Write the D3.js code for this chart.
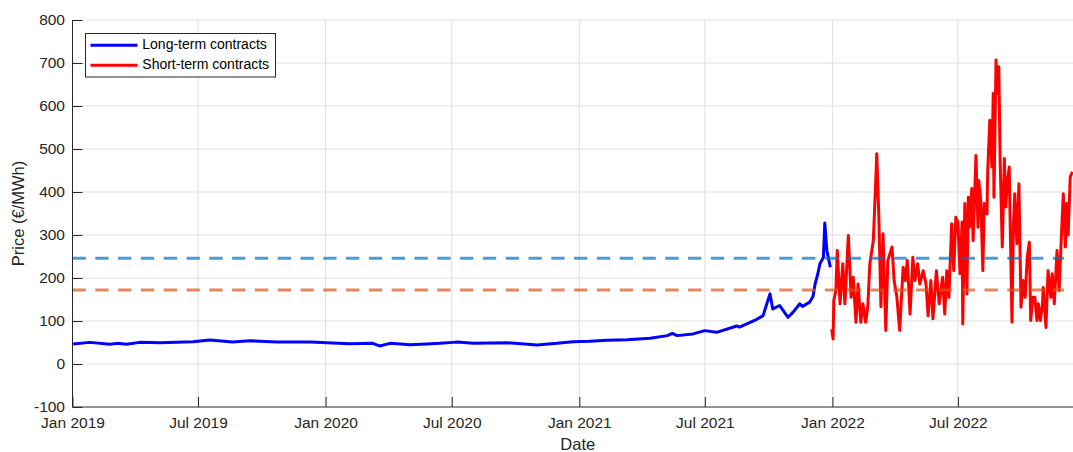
<!DOCTYPE html>
<html>
<head>
<meta charset="utf-8">
<script src="https://cdn.jsdelivr.net/npm/d3@7"></script>
<style>
  body { margin: 0; background: #fff; }
  svg { display: block; font-family: "Liberation Sans", Arial, sans-serif; }
</style>
</head>
<body>
<div id="chart"></div>
<script>
// long-term contracts (weekly-ish reading of the curve)
const longDates = ['2019-01-02','2019-01-26','2019-02-24','2019-03-06','2019-03-20','2019-04-08','2019-05-07','2019-06-24',
  '2019-07-18','2019-08-20','2019-09-14','2019-10-23','2019-12-10','2020-01-03','2020-02-05','2020-03-09','2020-03-19',
  '2020-04-03','2020-05-02','2020-05-26','2020-06-14','2020-07-03','2020-07-09','2020-08-01','2020-09-19','2020-11-01',
  '2020-11-30','2020-12-23','2021-01-16','2021-02-10','2021-03-11','2021-04-13','2021-05-08','2021-05-15','2021-05-22',
  '2021-06-14','2021-07-01','2021-07-18','2021-08-16','2021-08-20','2021-09-14','2021-09-23','2021-10-03','2021-10-07',
  '2021-10-17','2021-10-29','2021-11-05','2021-11-15','2021-11-19','2021-11-29','2021-12-04','2021-12-07','2021-12-11',
  '2021-12-14','2021-12-19','2021-12-21','2021-12-24','2021-12-29']
const longPrices = [46.6, 50.3, 45.7, 48, 45.7, 50.3, 49.5, 51.8,
  55.7, 51, 54, 51, 51, 49.5, 47, 48, 42,
  48, 45, 46.6, 48, 50.3, 51, 48, 49.6, 44.3,
  48, 52, 52.7, 55, 56.4, 59.7, 66, 71, 66,
  70, 77.6, 73.7, 88.5, 86, 104, 112.5, 163, 128,
  136, 108.6, 120, 140, 134, 143.5, 157, 186, 210,
  233, 248, 328, 264, 225]

// short-term contracts (2022)
const shortDates = ['2021-12-31','2022-01-02','2022-01-03','2022-01-06','2022-01-08','2022-01-12','2022-01-16','2022-01-19',
  '2022-01-24','2022-01-28','2022-01-31','2022-02-04','2022-02-07','2022-02-11','2022-02-14','2022-02-18','2022-02-21',
  '2022-02-24','2022-03-01','2022-03-03','2022-03-06','2022-03-09','2022-03-12','2022-03-15','2022-03-19','2022-03-22',
  '2022-03-28','2022-03-31','2022-04-04','2022-04-08','2022-04-13','2022-04-16','2022-04-19','2022-04-23','2022-04-27',
  '2022-04-30','2022-05-04','2022-05-07','2022-05-12','2022-05-16','2022-05-19','2022-05-23','2022-05-26','2022-05-31',
  '2022-06-04','2022-06-09','2022-06-12','2022-06-15','2022-06-18','2022-06-22','2022-06-25','2022-06-28','2022-07-01',
  '2022-07-04','2022-07-07','2022-07-08','2022-07-11','2022-07-14','2022-07-16','2022-07-18','2022-07-21','2022-07-23',
  '2022-07-27','2022-07-30','2022-07-31','2022-08-03','2022-08-06','2022-08-08','2022-08-12','2022-08-13','2022-08-16',
  '2022-08-19','2022-08-21','2022-08-22','2022-08-25','2022-08-26','2022-08-29','2022-08-31','2022-09-03','2022-09-06',
  '2022-09-08','2022-09-10','2022-09-13','2022-09-14','2022-09-17','2022-09-19','2022-09-21','2022-09-24','2022-09-27',
  '2022-09-30','2022-10-03','2022-10-06','2022-10-09','2022-10-12','2022-10-14','2022-10-17','2022-10-20','2022-10-23',
  '2022-10-25','2022-10-28','2022-10-31','2022-11-01','2022-11-05','2022-11-08','2022-11-12','2022-11-14','2022-11-17',
  '2022-11-21','2022-11-24','2022-11-27','2022-11-30','2022-12-03','2022-12-05','2022-12-07','2022-12-10','2022-12-13']
const shortPrices = [81, 58, 147, 171, 264, 140, 233, 140,
  299, 155, 202, 97, 186, 97, 140, 97, 133,
  233, 287, 365, 489, 341, 133, 303, 78, 241,
  272, 194, 155, 78, 225, 194, 241, 116, 248,
  194, 233, 186, 217, 186, 112, 194, 105, 217,
  140, 202, 116, 217, 155, 326, 217, 341, 330,
  210, 330, 93, 373, 163, 388, 318, 408, 287,
  485, 318, 427, 380, 217, 373, 349, 450, 567,
  458, 629, 388, 707, 629, 691, 466, 272, 478,
  365, 419, 458, 365, 97, 318, 396, 280, 419,
  132, 194, 155, 248, 283, 101, 155, 155, 101,
  140, 101, 140, 178, 85, 217, 155, 210, 140,
  264, 171, 287, 396, 272, 373, 300, 435, 447]

// reference levels
const levelValues = [246, 172]
const levelColors = ['#0072BD', '#D95319']

const yTicks = [-100, 0, 100, 200, 300, 400, 500, 600, 700, 800]
const xTickDates = ['2019-01-01','2019-07-01','2020-01-01','2020-07-01','2021-01-01','2021-07-01','2022-01-01','2022-07-01']

const width = 1073
const height = 452
const margin = { top: 20, right: 0, bottom: 45, left: 72.5 }
const textColor = '#262626'
const tickFont = '15.5px'

const parse = d3.utcParse('%Y-%m-%d')
const longData = longDates.map((d, i) => ({ date: parse(d), value: longPrices[i] }))
const shortData = shortDates.map((d, i) => ({ date: parse(d), value: shortPrices[i] }))

const x = d3.scaleUtc()
  .domain([parse('2019-01-01'), parse('2022-12-14')])
  .range([margin.left, width - margin.right])
const y = d3.scaleLinear()
  .domain([-100, 800])
  .range([height - margin.bottom, margin.top])

const svg = d3.select('#chart').append('svg')
  .attr('width', width)
  .attr('height', height)

// grid
const grid = svg.append('g').attr('stroke', '#dfdfdf').attr('stroke-width', 1)
grid.selectAll('line.h')
  .data(yTicks.slice(1))
  .enter().append('line')
    .attr('x1', margin.left).attr('x2', width)
    .attr('y1', d => y(d)).attr('y2', d => y(d))
grid.selectAll('line.v')
  .data(xTickDates.slice(1))
  .enter().append('line')
    .attr('x1', d => x(parse(d))).attr('x2', d => x(parse(d)))
    .attr('y1', margin.top).attr('y2', height - margin.bottom)

const line = d3.line()
  .x(d => x(d.date))
  .y(d => y(d.value))

svg.append('path')
  .datum(longData)
  .attr('fill', 'none')
  .attr('stroke', '#0000ff')
  .attr('stroke-width', 3)
  .attr('stroke-linejoin', 'round')
  .attr('d', line)

svg.append('path')
  .datum(shortData)
  .attr('fill', 'none')
  .attr('stroke', '#ff0000')
  .attr('stroke-width', 3)
  .attr('stroke-linejoin', 'round')
  .attr('d', line)

// dashed levels on top
svg.append('g')
  .selectAll('line')
  .data(levelValues)
  .enter().append('line')
    .attr('x1', margin.left)
    .attr('x2', x(parse('2022-12-01')))
    .attr('y1', d => y(d)).attr('y2', d => y(d))
    .attr('stroke', (d, i) => levelColors[i])
    .attr('stroke-opacity', 0.7)
    .attr('stroke-width', 3)
    .attr('stroke-dasharray', '13.3 9.5')

// y axis
const yAxis = svg.append('g')
  .attr('transform', `translate(${margin.left},0)`)
  .call(d3.axisLeft(y).tickValues(yTicks).tickFormat(d => String(d)).tickSize(-10).tickPadding(7.5))
yAxis.select('.domain').attr('stroke', textColor).attr('d', `M0,${margin.top}V${height - margin.bottom}`)
yAxis.selectAll('.tick line').attr('stroke', textColor)
yAxis.selectAll('.tick text')
  .attr('fill', textColor)
  .style('font-size', tickFont)
  .style('font-family', '"Liberation Sans", Arial, sans-serif')

// x axis
const xAxis = svg.append('g')
  .attr('transform', `translate(0,${height - margin.bottom})`)
  .call(d3.axisBottom(x)
    .tickValues(xTickDates.map(parse))
    .tickFormat(d3.utcFormat('%b %Y'))
    .tickSize(-10)
    .tickPadding(10))
xAxis.select('.domain').attr('stroke', textColor).attr('d', `M${margin.left},0H${width}`)
xAxis.selectAll('.tick line').attr('stroke', textColor)
xAxis.selectAll('.tick text')
  .attr('fill', textColor)
  .style('font-size', tickFont)
  .style('font-family', '"Liberation Sans", Arial, sans-serif')

// axis labels
svg.append('text')
  .attr('x', (margin.left + width) / 2 + 5)
  .attr('y', 446)
  .attr('text-anchor', 'middle')
  .attr('dominant-baseline', 'middle')
  .attr('fill', textColor)
  .style('font-size', '16.5px')
  .text('Date')

svg.append('text')
  .attr('transform', `translate(19.5,${y(350)}) rotate(-90)`)
  .attr('text-anchor', 'middle')
  .attr('dominant-baseline', 'middle')
  .attr('fill', textColor)
  .style('font-size', '16.5px')
  .text('Price (€/MWh)')

// legend
const legendItems = [
  { label: 'Long-term contracts', color: '#0000ff' },
  { label: 'Short-term contracts', color: '#ff0000' }
]
const legend = svg.append('g')
legend.append('rect')
  .attr('x', 85.5).attr('y', 33.5)
  .attr('width', 190).attr('height', 43.5)
  .attr('fill', '#fff')
  .attr('stroke', textColor)
  .attr('stroke-width', 1)
const li = legend.selectAll('g.item')
  .data(legendItems)
  .enter().append('g')
    .attr('transform', (d, i) => `translate(0,${45.3 + i * 20})`)
li.append('line')
  .attr('x1', 90.5).attr('x2', 137.5)
  .attr('stroke', d => d.color)
  .attr('stroke-width', 3)
li.append('text')
  .attr('x', 142.3)
  .attr('dominant-baseline', 'middle')
  .attr('fill', '#000')
  .style('font-size', '14px')
  .text(d => d.label)
</script>
</body>
</html>
